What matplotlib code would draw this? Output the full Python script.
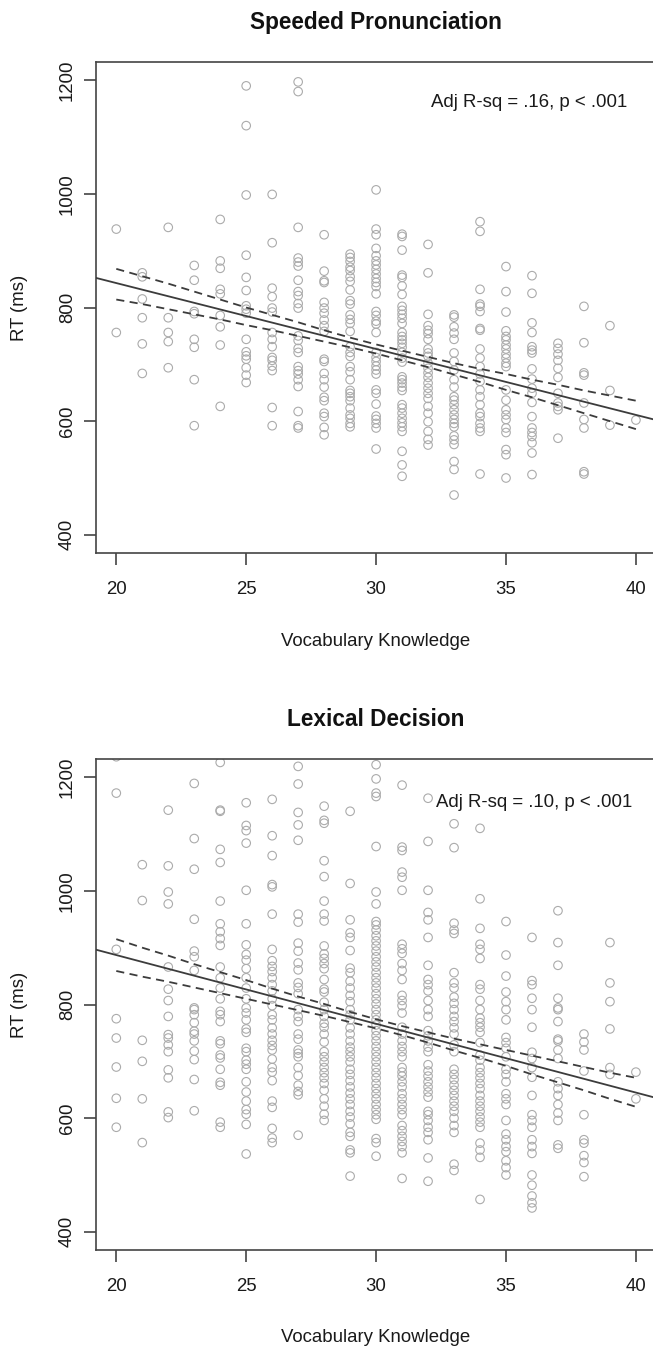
'''
 Reaction time against vocabulary knowledge, two tasks
'''

import matplotlib
matplotlib.use('Agg')
import matplotlib.pyplot as plt

plt.rcParams['font.family'] = ['Liberation Sans', 'DejaVu Sans']

SCORES = list(range(20, 41))

# Speeded pronunciation: RT values read per vocabulary score
PRON_RT = {
    20: [938, 756],
    21: [861, 854, 815, 782, 736, 684],
    22: [941, 782, 756, 740, 694],
    23: [874, 848, 793, 789, 744, 730, 673, 592],
    24: [955, 882, 869, 832, 824, 786, 766, 734, 626],
    25: [1190, 1120, 998, 892, 853, 830, 803, 797, 790, 744, 722, 715, 709,
         694, 681, 668],
    26: [999, 914, 834, 819, 799, 792, 756, 744, 731, 712, 707, 697, 689,
         624, 592],
    27: [1197, 1180, 941, 887, 880, 873, 848, 828, 821, 807, 799, 750, 742,
         728, 721, 696, 689, 683, 673, 661, 617, 592, 588],
    28: [928, 864, 847, 844, 809, 799, 790, 778, 768, 758, 709, 705, 684,
         673, 660, 642, 636, 614, 608, 589, 576],
    29: [894, 888, 881, 871, 865, 854, 846, 831, 812, 806, 787, 779, 772,
         758, 731, 721, 714, 696, 687, 673, 654, 649, 643, 636, 623, 611,
         605, 596, 590],
    30: [1007, 938, 928, 904, 891, 882, 875, 867, 859, 851, 844, 837, 824,
         793, 786, 776, 771, 756, 721, 712, 705, 697, 690, 683, 655, 649,
         630, 609, 603, 596, 588, 551],
    31: [929, 925, 901, 857, 853, 838, 823, 802, 795, 788, 781, 772, 756,
         749, 743, 737, 730, 721, 711, 704, 678, 673, 667, 660, 654, 629,
         623, 614, 605, 597, 590, 582, 547, 523, 503],
    32: [911, 861, 788, 768, 760, 754, 744, 727, 720, 714, 702, 693, 685,
         677, 667, 658, 649, 640, 626, 614, 599, 582, 568, 558],
    33: [787, 783, 766, 755, 744, 720, 705, 690, 673, 660, 643, 637, 629,
         620, 611, 603, 596, 590, 574, 567, 559, 529, 515, 470],
    34: [951, 934, 832, 806, 802, 793, 763, 760, 727, 711, 696, 683, 670,
         655, 643, 629, 614, 608, 596, 588, 582, 507],
    35: [872, 828, 792, 759, 749, 743, 734, 727, 718, 711, 702, 696, 655,
         637, 620, 611, 603, 588, 580, 550, 541, 500],
    36: [856, 825, 773, 756, 731, 725, 720, 692, 674, 658, 649, 633, 608,
         588, 580, 573, 562, 544, 506],
    37: [737, 728, 718, 707, 693, 677, 649, 632, 626, 620, 570],
    38: [802, 738, 685, 681, 632, 603, 588, 511, 507],
    39: [768, 654, 593],
    40: [602],
}

# Lexical decision: RT values read per vocabulary score
LEX_RT = {
    20: [1236, 1172, 897, 775, 741, 690, 635, 584],
    21: [1046, 983, 737, 700, 634, 557],
    22: [1142, 1044, 998, 977, 866, 827, 807, 779, 747, 741, 729, 717, 685,
         671, 611, 601],
    23: [1189, 1092, 1038, 950, 894, 884, 860, 794, 791, 782, 768, 753, 748,
         736, 718, 703, 668, 613],
    24: [1226, 1142, 1140, 1073, 1050, 982, 942, 928, 916, 904, 866, 847,
         829, 810, 788, 782, 770, 736, 731, 711, 706, 686, 663, 658, 593,
         584],
    25: [1155, 1115, 1106, 1084, 1001, 942, 905, 888, 878, 863, 847, 829,
         810, 794, 785, 773, 757, 751, 723, 717, 702, 695, 686, 664, 646,
         630, 615, 607, 589, 537],
    26: [1161, 1097, 1062, 1011, 1007, 959, 897, 877, 867, 858, 847, 835,
         824, 810, 798, 782, 773, 759, 748, 737, 728, 720, 704, 689, 681,
         666, 630, 619, 582, 565, 557],
    27: [1219, 1188, 1138, 1116, 1089, 959, 945, 908, 894, 873, 861, 838,
         830, 819, 791, 779, 770, 748, 739, 720, 714, 708, 689, 675, 658,
         647, 641, 570],
    28: [1149, 1124, 1119, 1053, 1025, 982, 959, 947, 903, 889, 881, 872,
         863, 844, 827, 822, 804, 791, 779, 767, 760, 748, 734, 717, 708,
         699, 689, 680, 671, 661, 649, 634, 621, 607, 596],
    29: [1140, 1013, 949, 926, 918, 895, 864, 856, 841, 829, 816, 805, 791,
         782, 773, 759, 748, 736, 725, 717, 708, 699, 686, 677, 666, 655,
         644, 634, 624, 612, 602, 590, 575, 568, 544, 539, 498],
    30: [1222, 1197, 1172, 1166, 1078, 998, 977, 946, 940, 931, 921, 912,
         903, 894, 884, 875, 866, 856, 847, 838, 829, 819, 810, 801, 791,
         782, 773, 764, 754, 745, 736, 726, 717, 708, 699, 689, 680, 671,
         661, 652, 643, 634, 624, 615, 606, 598, 564, 557, 533],
    31: [1186, 1077, 1071, 1033, 1024, 1001, 906, 898, 890, 872, 860, 844,
         816, 807, 798, 785, 760, 748, 736, 726, 717, 708, 689, 681, 674,
         664, 655, 643, 634, 624, 615, 606, 587, 578, 568, 559, 550, 539,
         494],
    32: [1163, 1087, 1001, 962, 949, 918, 869, 844, 835, 824, 807, 791, 779,
         754, 745, 736, 725, 717, 694, 683, 674, 664, 655, 646, 637, 612,
         606, 596, 584, 575, 562, 530, 489],
    33: [1118, 1076, 943, 931, 925, 856, 838, 829, 813, 802, 791, 779, 770,
         759, 748, 729, 717, 686, 677, 668, 658, 649, 640, 630, 621, 612,
         600, 587, 575, 519, 508],
    34: [1110, 986, 934, 906, 897, 881, 835, 827, 807, 791, 776, 768, 760,
         751, 733, 711, 702, 689, 680, 671, 661, 652, 640, 630, 621, 612,
         602, 593, 584, 556, 544, 531, 457],
    35: [946, 887, 850, 822, 805, 791, 773, 742, 733, 723, 708, 686, 677,
         664, 643, 634, 624, 596, 572, 562, 550, 541, 525, 513, 500],
    36: [918, 842, 835, 811, 791, 760, 716, 705, 689, 672, 640, 606, 596,
         584, 562, 550, 538, 500, 482, 463, 451, 442],
    37: [965, 909, 869, 811, 794, 791, 770, 739, 736, 720, 705, 664, 652,
         640, 624, 609, 596, 553, 547],
    38: [748, 734, 720, 683, 606, 562, 556, 534, 522, 497],
    39: [909, 838, 805, 757, 689, 677],
    40: [681, 634],
}

# regression line (intercept, slope) and confidence band at each score
PRON_FIT = (1075, -11.6)
PRON_UPPER = [868, 855, 842, 828, 814, 800, 787, 774, 760, 747, 735, 724,
              713, 702, 692, 683, 673, 664, 654, 645, 636]
PRON_LOWER = [814, 806, 797, 788, 779, 769, 760, 750, 740, 730, 719, 707,
              695, 682, 669, 655, 642, 628, 614, 600, 586]

LEX_FIT = (1129, -12.1)
LEX_UPPER = [915, 900, 886, 871, 857, 843, 828, 814, 801, 787, 774, 762,
             751, 740, 730, 720, 710, 700, 690, 680, 671]
LEX_LOWER = [859, 849, 840, 830, 820, 810, 800, 790, 780, 769, 758, 746,
             733, 719, 706, 692, 677, 663, 649, 634, 620]

PANELS = [
    ('Speeded Pronunciation', PRON_RT, PRON_FIT, PRON_UPPER, PRON_LOWER,
     'Adj R-sq = .16, p < .001', (35.9, 1160)),
    ('Lexical Decision', LEX_RT, LEX_FIT, LEX_UPPER, LEX_LOWER,
     'Adj R-sq = .10, p < .001', (36.1, 1155)),
]

W, H = 653, 1349
LINE = '#444444'


def draw_panel(ax, title, rt, fit, upper, lower, note, note_xy):
    '''
    Scatter of open circles, fitted line and dashed confidence band
    '''
    xs, ys = [], []
    for score, values in rt.items():
        xs.extend([score] * len(values))
        ys.extend(values)
    ax.scatter(xs, ys, s=38, facecolors='none', edgecolors='#ababab',
               linewidths=0.8, zorder=2)

    ax.axline((0, fit[0]), slope=fit[1], color='#3c3c3c', lw=1.3, zorder=3)
    ax.plot(SCORES, upper, color='#3c3c3c', lw=1.3, ls=(0, (4.5, 3)), zorder=3)
    ax.plot(SCORES, lower, color='#3c3c3c', lw=1.3, ls=(0, (4.5, 3)), zorder=3)

    ax.text(note_xy[0], note_xy[1], note, fontsize=13.4, ha='center',
            va='center', color='#1a1a1a')

    ax.set_xlim(19.2, 40.8)
    ax.set_ylim(368, 1232)
    ax.set_xticks([20, 25, 30, 35, 40])
    ax.set_yticks([400, 600, 800, 1000, 1200])
    for side in ax.spines.values():
        side.set_color(LINE)
        side.set_linewidth(1.2)
    ax.tick_params(direction='out', length=8.6, width=1.2, color=LINE,
                   labelsize=13.4, labelcolor='#1a1a1a')
    ax.tick_params(axis='x', pad=11.5)
    ax.tick_params(axis='y', pad=5.5, labelrotation=90)
    for label in ax.get_yticklabels():
        label.set_va('center')

    ax.text(0.5, 1 + 40 / 491, title, transform=ax.transAxes, ha='center',
            va='center', fontsize=16.3, fontweight='bold', color='#111111')
    ax.text(0.5, -88 / 491, 'Vocabulary Knowledge', transform=ax.transAxes,
            ha='center', va='center', fontsize=13.4, color='#1a1a1a')
    ax.text(-76 / 561, 0.5, 'RT (ms)', transform=ax.transAxes, ha='center',
            va='center', rotation=90, fontsize=13.4, color='#1a1a1a')


def run():
    '''
    Build both panels and save the figure
    '''
    fig = plt.figure(figsize=(W / 100, H / 100), dpi=100)
    left, right = 95.5, 656.7
    for i, panel in enumerate(PANELS):
        top = 62 + i * 697
        ax = fig.add_axes([left / W, 1 - (top + 491) / H,
                           (right - left) / W, 491 / H])
        draw_panel(ax, *panel)
    fig.savefig('out.png', dpi=100)


run()
